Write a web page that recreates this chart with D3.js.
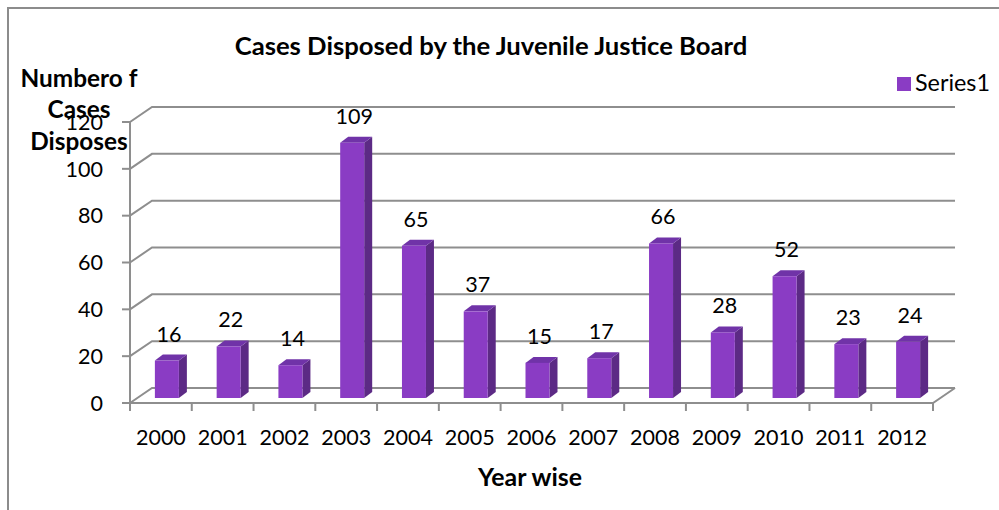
<!DOCTYPE html>
<html>
<head>
<meta charset="utf-8">
<script src="https://cdn.jsdelivr.net/npm/d3@7"></script>
<style>
  html, body { margin: 0; padding: 0; background: #ffffff; }
  svg { display: block; font-family: Lato, "Open Sans", sans-serif; }
</style>
</head>
<body>
<svg id="chart" width="999" height="510"></svg>
<script>
// Cases disposed per year
const years = ["2000", "2001", "2002", "2003", "2004", "2005", "2006", "2007", "2008", "2009", "2010", "2011", "2012"];
const cases = [16, 22, 14, 109, 65, 37, 15, 17, 66, 28, 52, 23, 24];
const yTicks = [0, 20, 40, 60, 80, 100, 120];
const chartTitle = "Cases Disposed by the Juvenile Justice Board";
const yTitleLines = ["Numbero f", "Cases", "Disposes"];
const xTitle = "Year wise";
const seriesName = "Series1";

const svg = d3.select("#chart");
const W = 999, H = 510;

// colours
const gridColor = "#8e8e8e";
const faceColor = "#8a3cc4";
const sideColor = "#5c2a85";
const topColor = "#7033a8";

// font size that makes a sample string span a given width
function fitSize(sample, width, weight) {
  const t = svg.append("text").attr("font-size", 20).attr("font-weight", weight || "normal").text(sample);
  const w = t.node().getComputedTextLength();
  t.remove();
  return 20 * width / w;
}
const numSize = fitSize("2000", 50);
const titleSize = fitSize(chartTitle, 513, "bold");
const xTitleSize = fitSize(xTitle, 104, "bold");
const yTitleSize = fitSize(yTitleLines[0], 117, "bold");
const legendSize = fitSize(seriesName, 75);

// front plane scales
const x = d3.scaleBand().domain(years).range([130, 933]).padding(0);
const y = d3.scaleLinear().domain([0, 120]).range([403, 122]);

// oblique depth of the walls and of the bars
const wall = { dx: 22, dy: -15 };
const barPlane = { dx: 6, dy: -5 };
const barSide = { dx: 8, dy: -6 };
const barW = 24;

// outer frame
svg.append("path")
  .attr("d", `M8,${H} L8,8 L${W},8`)
  .attr("fill", "none").attr("stroke", "#8c8c8c").attr("stroke-width", 2);

const x0 = x.range()[0], x1 = x.range()[1];

// back wall gridlines + left wall diagonals
const grid = svg.append("g").attr("stroke", gridColor).attr("stroke-width", 2).attr("fill", "none");
yTicks.forEach(v => {
  const yf = y(v), yb = y(v) + wall.dy;
  grid.append("path")
    .attr("d", `M${x0},${yf} L${x0 + wall.dx},${yb} L${x1 + wall.dx},${yb}`);
});
// floor: front edge and right diagonal
grid.append("path").attr("d", `M${x0},${y(0)} L${x1},${y(0)} L${x1 + wall.dx},${y(0) + wall.dy}`);

// bars
const bars = svg.append("g");
years.forEach((yr, i) => {
  const v = cases[i];
  const left = x(yr) + x.bandwidth() / 2 + barPlane.dx - barW / 2;
  const right = left + barW;
  const base = y(0) + barPlane.dy;
  const top = y(v) + barPlane.dy;
  const g = bars.append("g");
  g.append("path")
    .attr("d", `M${right},${base} L${right},${top} L${right + barSide.dx},${top + barSide.dy} L${right + barSide.dx},${base + barSide.dy} Z`)
    .attr("fill", sideColor);
  g.append("path")
    .attr("d", `M${left},${top} L${left + barSide.dx},${top + barSide.dy} L${right + barSide.dx},${top + barSide.dy} L${right},${top} Z`)
    .attr("fill", topColor);
  g.append("rect")
    .attr("x", left).attr("y", top).attr("width", barW).attr("height", base - top)
    .attr("fill", faceColor);
  g.append("text")
    .attr("x", left + barW / 2 + 2).attr("y", top + barSide.dy - 13)
    .attr("text-anchor", "middle")
    .attr("font-size", numSize).attr("fill", "#000")
    .text(v);
});

// front axes
const axes = svg.append("g").attr("stroke", gridColor).attr("stroke-width", 2).attr("fill", "none");
axes.append("line").attr("x1", x0).attr("x2", x0).attr("y1", y(120)).attr("y2", y(0));
yTicks.forEach(v => {
  axes.append("line").attr("x1", x0 - 8).attr("x2", x0).attr("y1", y(v)).attr("y2", y(v));
});
years.concat(["end"]).forEach((yr, i) => {
  const xx = i < years.length ? x(yr) : x1;
  axes.append("line").attr("x1", xx).attr("x2", xx).attr("y1", y(0)).attr("y2", y(0) + 8);
});

// tick labels
svg.append("g").selectAll("text").data(yTicks).join("text")
  .attr("x", 103).attr("y", d => y(d)).attr("dy", "0.36em")
  .attr("text-anchor", "end").attr("font-size", numSize).text(d => d);
svg.append("g").selectAll("text").data(years).join("text")
  .attr("x", d => x(d) + x.bandwidth() / 2).attr("y", 445)
  .attr("text-anchor", "middle").attr("font-size", numSize).text(d => d);

// titles
svg.append("text").attr("x", 491).attr("y", 55).attr("text-anchor", "middle")
  .attr("font-size", titleSize).attr("font-weight", "bold").text(chartTitle);
svg.append("text").attr("x", 530).attr("y", 486).attr("text-anchor", "middle")
  .attr("font-size", xTitleSize).attr("font-weight", "bold").text(xTitle);
const yTitleY = [87, 118, 150];
yTitleLines.forEach((t, i) => {
  svg.append("text").attr("x", 79).attr("y", yTitleY[i]).attr("text-anchor", "middle")
    .attr("font-size", yTitleSize).attr("font-weight", "bold").text(t);
});

// legend
const legend = svg.append("g");
legend.append("rect").attr("x", 897).attr("y", 77).attr("width", 14).attr("height", 14).attr("fill", faceColor);
legend.append("text").attr("x", 915).attr("y", 91).attr("font-size", legendSize).text(seriesName);
</script>
</body>
</html>
